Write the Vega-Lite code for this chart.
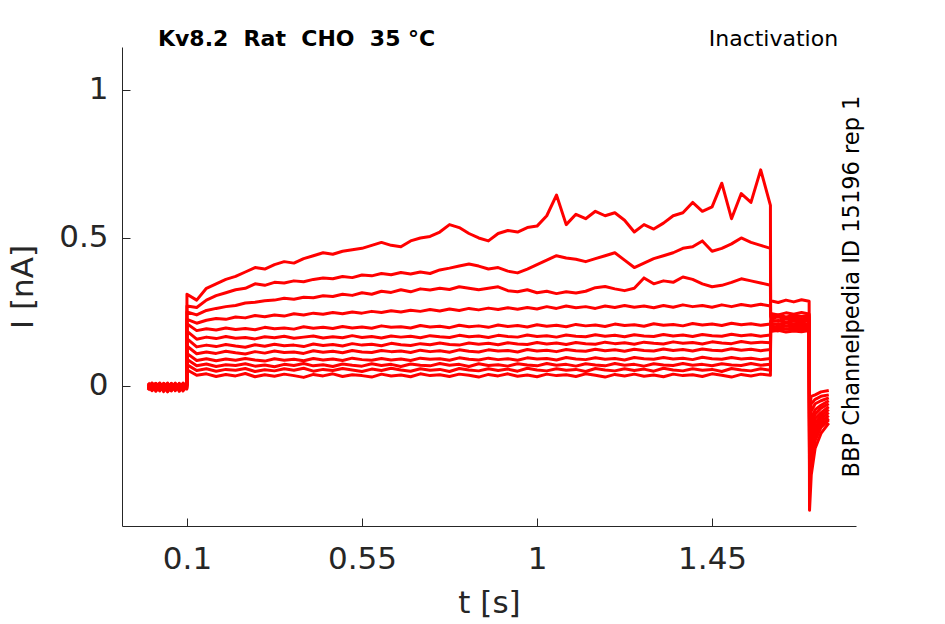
{
  "$schema": "https://vega.github.io/schema/vega-lite/v6.json",
  "description": "Kv8.2 rat CHO inactivation current traces",
  "autosize": "none",
  "width": 734,
  "height": 479,
  "padding": {"left": 122, "top": 47, "right": 89, "bottom": 98},
  "datasets": {
    "traces": [
      {"t":0.0,"a":-0.004,"b":0.008,"c":-0.012,"d":0.003,"e":-0.009,"f":0.011,"g":-0.002,"h":-0.015,"i":0.006,"j":-0.007,"k":0.001,"l":-0.011},
      {"t":0.01,"a":0.007,"b":-0.01,"c":0.004,"d":-0.014,"e":0.009,"f":-0.003,"g":-0.011,"h":0.005,"i":-0.016,"j":0.01,"k":-0.006,"l":0.002},
      {"t":0.02,"a":-0.012,"b":0.002,"c":0.009,"d":-0.006,"e":-0.015,"f":0.004,"g":0.008,"h":-0.01,"i":-0.002,"j":-0.018,"k":0.006,"l":-0.008},
      {"t":0.03,"a":0.003,"b":-0.013,"c":-0.005,"d":0.01,"e":0.001,"f":-0.017,"g":-0.007,"h":0.007,"i":0.004,"j":-0.003,"k":-0.014,"l":0.009},
      {"t":0.04,"a":-0.008,"b":0.006,"c":-0.016,"d":-0.002,"e":0.007,"f":0.009,"g":-0.013,"h":-0.004,"i":-0.011,"j":0.005,"k":0.002,"l":-0.019},
      {"t":0.05,"a":0.01,"b":-0.005,"c":0.002,"d":-0.011,"e":-0.006,"f":-0.001,"g":0.006,"h":-0.02,"i":0.008,"j":-0.012,"k":-0.009,"l":0.004},
      {"t":0.06,"a":-0.015,"b":0.009,"c":-0.008,"d":0.005,"e":0.003,"f":-0.012,"g":-0.004,"h":0.002,"i":-0.007,"j":0.008,"k":-0.017,"l":-0.003},
      {"t":0.07,"a":0.001,"b":-0.016,"c":0.007,"d":-0.009,"e":-0.013,"f":0.006,"g":0.01,"h":-0.008,"i":0.001,"j":-0.005,"k":0.004,"l":-0.014},
      {"t":0.08,"a":-0.006,"b":0.003,"c":-0.012,"d":0.008,"e":0.005,"f":-0.008,"g":-0.018,"h":0.009,"i":-0.013,"j":0.002,"k":-0.002,"l":0.006},
      {"t":0.09,"a":0.005,"b":-0.008,"c":0.003,"d":-0.017,"e":-0.004,"f":0.01,"g":-0.006,"h":-0.012,"i":0.007,"j":-0.01,"k":0.008,"l":-0.005},
      {"t":0.0995,"a":-0.003,"b":0.004,"c":-0.009,"d":0.001,"e":0.006,"f":-0.005,"g":0.002,"h":-0.007,"i":-0.001,"j":0.003,"k":-0.01,"l":0.0},
      {"t":0.1,"a":0.31,"b":0.27,"c":0.25,"d":0.225,"e":0.21,"f":0.185,"g":0.16,"h":0.135,"i":0.11,"j":0.09,"k":0.072,"l":0.055},
      {"t":0.125,"a":0.29,"b":0.265,"c":0.24,"d":0.212,"e":0.187,"f":0.158,"g":0.132,"h":0.109,"i":0.086,"j":0.068,"k":0.052,"l":0.036},
      {"t":0.15,"a":0.33,"b":0.29,"c":0.255,"d":0.222,"e":0.193,"f":0.165,"g":0.138,"h":0.115,"i":0.092,"j":0.074,"k":0.058,"l":0.041},
      {"t":0.175,"a":0.345,"b":0.305,"c":0.262,"d":0.228,"e":0.189,"f":0.16,"g":0.133,"h":0.11,"i":0.085,"j":0.066,"k":0.05,"l":0.032},
      {"t":0.2,"a":0.36,"b":0.315,"c":0.268,"d":0.225,"e":0.196,"f":0.167,"g":0.14,"h":0.117,"i":0.091,"j":0.072,"k":0.056,"l":0.039},
      {"t":0.225,"a":0.37,"b":0.325,"c":0.272,"d":0.233,"e":0.191,"f":0.161,"g":0.135,"h":0.112,"i":0.087,"j":0.069,"k":0.053,"l":0.034},
      {"t":0.25,"a":0.385,"b":0.33,"c":0.28,"d":0.23,"e":0.194,"f":0.164,"g":0.131,"h":0.108,"i":0.093,"j":0.075,"k":0.059,"l":0.042},
      {"t":0.275,"a":0.4,"b":0.345,"c":0.283,"d":0.238,"e":0.19,"f":0.159,"g":0.139,"h":0.116,"i":0.088,"j":0.067,"k":0.049,"l":0.031},
      {"t":0.3,"a":0.395,"b":0.34,"c":0.288,"d":0.234,"e":0.198,"f":0.166,"g":0.134,"h":0.111,"i":0.084,"j":0.071,"k":0.055,"l":0.038},
      {"t":0.325,"a":0.41,"b":0.35,"c":0.29,"d":0.24,"e":0.193,"f":0.163,"g":0.141,"h":0.118,"i":0.092,"j":0.065,"k":0.051,"l":0.033},
      {"t":0.35,"a":0.42,"b":0.348,"c":0.296,"d":0.236,"e":0.196,"f":0.168,"g":0.136,"h":0.113,"i":0.087,"j":0.073,"k":0.058,"l":0.04},
      {"t":0.375,"a":0.415,"b":0.355,"c":0.293,"d":0.244,"e":0.192,"f":0.161,"g":0.138,"h":0.115,"i":0.09,"j":0.069,"k":0.053,"l":0.035},
      {"t":0.4,"a":0.43,"b":0.352,"c":0.3,"d":0.24,"e":0.2,"f":0.165,"g":0.133,"h":0.11,"i":0.085,"j":0.076,"k":0.06,"l":0.029},
      {"t":0.425,"a":0.44,"b":0.36,"c":0.298,"d":0.246,"e":0.195,"f":0.169,"g":0.142,"h":0.119,"i":0.093,"j":0.068,"k":0.05,"l":0.039},
      {"t":0.45,"a":0.45,"b":0.365,"c":0.305,"d":0.242,"e":0.198,"f":0.162,"g":0.137,"h":0.114,"i":0.088,"j":0.072,"k":0.056,"l":0.034},
      {"t":0.475,"a":0.445,"b":0.362,"c":0.302,"d":0.248,"e":0.194,"f":0.166,"g":0.14,"h":0.117,"i":0.091,"j":0.066,"k":0.052,"l":0.041},
      {"t":0.5,"a":0.455,"b":0.37,"c":0.31,"d":0.244,"e":0.201,"f":0.163,"g":0.135,"h":0.112,"i":0.086,"j":0.074,"k":0.059,"l":0.032},
      {"t":0.525,"a":0.46,"b":0.366,"c":0.306,"d":0.25,"e":0.196,"f":0.17,"g":0.143,"h":0.12,"i":0.094,"j":0.07,"k":0.054,"l":0.038},
      {"t":0.55,"a":0.465,"b":0.375,"c":0.315,"d":0.246,"e":0.199,"f":0.164,"g":0.138,"h":0.115,"i":0.089,"j":0.067,"k":0.049,"l":0.035},
      {"t":0.575,"a":0.475,"b":0.372,"c":0.31,"d":0.252,"e":0.195,"f":0.167,"g":0.141,"h":0.113,"i":0.087,"j":0.075,"k":0.057,"l":0.03},
      {"t":0.6,"a":0.485,"b":0.38,"c":0.32,"d":0.248,"e":0.203,"f":0.162,"g":0.136,"h":0.12,"i":0.093,"j":0.069,"k":0.052,"l":0.04},
      {"t":0.625,"a":0.475,"b":0.376,"c":0.316,"d":0.254,"e":0.198,"f":0.169,"g":0.144,"h":0.116,"i":0.088,"j":0.073,"k":0.06,"l":0.034},
      {"t":0.65,"a":0.47,"b":0.383,"c":0.325,"d":0.25,"e":0.2,"f":0.165,"g":0.139,"h":0.118,"i":0.091,"j":0.066,"k":0.054,"l":0.037},
      {"t":0.675,"a":0.49,"b":0.378,"c":0.318,"d":0.256,"e":0.196,"f":0.168,"g":0.137,"h":0.113,"i":0.086,"j":0.074,"k":0.05,"l":0.031},
      {"t":0.7,"a":0.5,"b":0.385,"c":0.328,"d":0.252,"e":0.204,"f":0.163,"g":0.143,"h":0.121,"i":0.094,"j":0.07,"k":0.058,"l":0.041},
      {"t":0.725,"a":0.505,"b":0.38,"c":0.324,"d":0.258,"e":0.199,"f":0.17,"g":0.139,"h":0.116,"i":0.09,"j":0.068,"k":0.053,"l":0.035},
      {"t":0.75,"a":0.52,"b":0.392,"c":0.33,"d":0.253,"e":0.202,"f":0.166,"g":0.145,"h":0.119,"i":0.092,"j":0.076,"k":0.056,"l":0.038},
      {"t":0.775,"a":0.545,"b":0.398,"c":0.326,"d":0.26,"e":0.197,"f":0.164,"g":0.14,"h":0.114,"i":0.087,"j":0.07,"k":0.049,"l":0.032},
      {"t":0.8,"a":0.535,"b":0.405,"c":0.335,"d":0.255,"e":0.205,"f":0.171,"g":0.138,"h":0.122,"i":0.095,"j":0.073,"k":0.059,"l":0.04},
      {"t":0.825,"a":0.515,"b":0.412,"c":0.33,"d":0.262,"e":0.2,"f":0.166,"g":0.145,"h":0.117,"i":0.09,"j":0.066,"k":0.054,"l":0.036},
      {"t":0.85,"a":0.5,"b":0.405,"c":0.325,"d":0.257,"e":0.203,"f":0.169,"g":0.141,"h":0.115,"i":0.088,"j":0.075,"k":0.051,"l":0.03},
      {"t":0.875,"a":0.49,"b":0.395,"c":0.33,"d":0.263,"e":0.198,"f":0.164,"g":0.144,"h":0.122,"i":0.094,"j":0.069,"k":0.058,"l":0.039},
      {"t":0.9,"a":0.515,"b":0.4,"c":0.335,"d":0.258,"e":0.206,"f":0.171,"g":0.139,"h":0.118,"i":0.089,"j":0.072,"k":0.052,"l":0.034},
      {"t":0.925,"a":0.525,"b":0.388,"c":0.322,"d":0.264,"e":0.201,"f":0.167,"g":0.146,"h":0.12,"i":0.092,"j":0.067,"k":0.057,"l":0.041},
      {"t":0.95,"a":0.52,"b":0.382,"c":0.318,"d":0.259,"e":0.204,"f":0.165,"g":0.142,"h":0.115,"i":0.087,"j":0.075,"k":0.05,"l":0.033},
      {"t":0.975,"a":0.535,"b":0.395,"c":0.325,"d":0.265,"e":0.199,"f":0.172,"g":0.14,"h":0.123,"i":0.095,"j":0.071,"k":0.06,"l":0.037},
      {"t":1.0,"a":0.54,"b":0.41,"c":0.315,"d":0.26,"e":0.207,"f":0.167,"g":0.147,"h":0.118,"i":0.091,"j":0.068,"k":0.054,"l":0.031},
      {"t":1.025,"a":0.575,"b":0.425,"c":0.32,"d":0.268,"e":0.202,"f":0.17,"g":0.142,"h":0.121,"i":0.093,"j":0.076,"k":0.051,"l":0.04},
      {"t":1.05,"a":0.645,"b":0.44,"c":0.312,"d":0.262,"e":0.205,"f":0.165,"g":0.145,"h":0.116,"i":0.088,"j":0.07,"k":0.058,"l":0.035},
      {"t":1.075,"a":0.545,"b":0.432,"c":0.318,"d":0.27,"e":0.2,"f":0.172,"g":0.14,"h":0.123,"i":0.096,"j":0.073,"k":0.053,"l":0.038},
      {"t":1.1,"a":0.58,"b":0.428,"c":0.314,"d":0.264,"e":0.208,"f":0.168,"g":0.147,"h":0.119,"i":0.091,"j":0.067,"k":0.056,"l":0.032},
      {"t":1.125,"a":0.565,"b":0.42,"c":0.32,"d":0.268,"e":0.203,"f":0.166,"g":0.143,"h":0.117,"i":0.089,"j":0.075,"k":0.049,"l":0.041},
      {"t":1.15,"a":0.59,"b":0.43,"c":0.332,"d":0.262,"e":0.206,"f":0.173,"g":0.141,"h":0.124,"i":0.095,"j":0.071,"k":0.059,"l":0.036},
      {"t":1.175,"a":0.575,"b":0.44,"c":0.336,"d":0.27,"e":0.201,"f":0.168,"g":0.148,"h":0.119,"i":0.09,"j":0.068,"k":0.054,"l":0.03},
      {"t":1.2,"a":0.585,"b":0.45,"c":0.328,"d":0.265,"e":0.209,"f":0.171,"g":0.143,"h":0.122,"i":0.093,"j":0.076,"k":0.051,"l":0.039},
      {"t":1.225,"a":0.56,"b":0.425,"c":0.322,"d":0.272,"e":0.204,"f":0.166,"g":0.146,"h":0.117,"i":0.088,"j":0.07,"k":0.058,"l":0.034},
      {"t":1.25,"a":0.52,"b":0.4,"c":0.33,"d":0.266,"e":0.207,"f":0.173,"g":0.141,"h":0.124,"i":0.096,"j":0.073,"k":0.052,"l":0.04},
      {"t":1.275,"a":0.545,"b":0.415,"c":0.365,"d":0.27,"e":0.202,"f":0.169,"g":0.148,"h":0.12,"i":0.092,"j":0.067,"k":0.057,"l":0.033},
      {"t":1.3,"a":0.53,"b":0.43,"c":0.345,"d":0.264,"e":0.21,"f":0.167,"g":0.144,"h":0.118,"i":0.09,"j":0.075,"k":0.05,"l":0.037},
      {"t":1.325,"a":0.55,"b":0.44,"c":0.355,"d":0.272,"e":0.205,"f":0.174,"g":0.142,"h":0.125,"i":0.096,"j":0.071,"k":0.06,"l":0.031},
      {"t":1.35,"a":0.575,"b":0.45,"c":0.35,"d":0.266,"e":0.208,"f":0.169,"g":0.149,"h":0.12,"i":0.091,"j":0.069,"k":0.054,"l":0.04},
      {"t":1.375,"a":0.585,"b":0.465,"c":0.368,"d":0.274,"e":0.203,"f":0.172,"g":0.144,"h":0.123,"i":0.094,"j":0.076,"k":0.051,"l":0.035},
      {"t":1.4,"a":0.62,"b":0.47,"c":0.36,"d":0.268,"e":0.211,"f":0.167,"g":0.147,"h":0.118,"i":0.089,"j":0.07,"k":0.058,"l":0.038},
      {"t":1.425,"a":0.59,"b":0.49,"c":0.345,"d":0.272,"e":0.206,"f":0.174,"g":0.142,"h":0.125,"i":0.097,"j":0.073,"k":0.053,"l":0.032},
      {"t":1.45,"a":0.605,"b":0.455,"c":0.335,"d":0.266,"e":0.209,"f":0.17,"g":0.149,"h":0.121,"i":0.092,"j":0.068,"k":0.056,"l":0.041},
      {"t":1.475,"a":0.685,"b":0.465,"c":0.34,"d":0.274,"e":0.204,"f":0.168,"g":0.145,"h":0.119,"i":0.09,"j":0.075,"k":0.049,"l":0.036},
      {"t":1.5,"a":0.565,"b":0.48,"c":0.35,"d":0.268,"e":0.212,"f":0.175,"g":0.143,"h":0.126,"i":0.096,"j":0.071,"k":0.059,"l":0.03},
      {"t":1.525,"a":0.65,"b":0.5,"c":0.362,"d":0.275,"e":0.207,"f":0.17,"g":0.15,"h":0.121,"i":0.091,"j":0.069,"k":0.054,"l":0.039},
      {"t":1.55,"a":0.62,"b":0.485,"c":0.355,"d":0.27,"e":0.21,"f":0.173,"g":0.145,"h":0.124,"i":0.094,"j":0.076,"k":0.051,"l":0.034},
      {"t":1.575,"a":0.73,"b":0.475,"c":0.348,"d":0.276,"e":0.205,"f":0.168,"g":0.148,"h":0.119,"i":0.089,"j":0.07,"k":0.058,"l":0.04},
      {"t":1.6,"a":0.61,"b":0.465,"c":0.34,"d":0.27,"e":0.209,"f":0.172,"g":0.146,"h":0.123,"i":0.093,"j":0.073,"k":0.053,"l":0.036},
      {"t":1.6005,"a":0.288,"b":0.245,"c":0.236,"d":0.229,"e":0.223,"f":0.217,"g":0.211,"h":0.206,"i":0.2,"j":0.195,"k":0.19,"l":0.184},
      {"t":1.62,"a":0.282,"b":0.24,"c":0.24,"d":0.233,"e":0.219,"f":0.221,"g":0.207,"h":0.21,"i":0.196,"j":0.199,"k":0.186,"l":0.188},
      {"t":1.64,"a":0.29,"b":0.247,"c":0.233,"d":0.227,"e":0.226,"f":0.214,"g":0.214,"h":0.203,"i":0.203,"j":0.192,"k":0.193,"l":0.182},
      {"t":1.66,"a":0.284,"b":0.242,"c":0.238,"d":0.231,"e":0.221,"f":0.219,"g":0.209,"h":0.208,"i":0.198,"j":0.197,"k":0.188,"l":0.186},
      {"t":1.68,"a":0.291,"b":0.248,"c":0.235,"d":0.226,"e":0.225,"f":0.216,"g":0.213,"h":0.204,"i":0.202,"j":0.194,"k":0.191,"l":0.183},
      {"t":1.6995,"a":0.286,"b":0.243,"c":0.239,"d":0.232,"e":0.22,"f":0.22,"g":0.208,"h":0.209,"i":0.197,"j":0.198,"k":0.187,"l":0.187},
      {"t":1.7005,"a":-0.07,"b":-0.1,"c":-0.13,"d":-0.16,"e":-0.19,"f":-0.21,"g":-0.23,"h":-0.25,"i":-0.27,"j":-0.29,"k":-0.31,"l":-0.42},
      {"t":1.705,"a":-0.035,"b":-0.06,"c":-0.085,"d":-0.11,"e":-0.13,"f":-0.15,"g":-0.17,"h":-0.19,"i":-0.21,"j":-0.23,"k":-0.25,"l":-0.3},
      {"t":1.715,"a":-0.03,"b":-0.045,"c":-0.06,"d":-0.08,"e":-0.095,"f":-0.11,"g":-0.125,"h":-0.14,"i":-0.155,"j":-0.17,"k":-0.185,"l":-0.21},
      {"t":1.73,"a":-0.02,"b":-0.035,"c":-0.05,"d":-0.065,"e":-0.075,"f":-0.09,"g":-0.1,"h":-0.11,"i":-0.12,"j":-0.13,"k":-0.14,"l":-0.16},
      {"t":1.75,"a":-0.015,"b":-0.03,"c":-0.04,"d":-0.05,"e":-0.06,"f":-0.07,"g":-0.08,"h":-0.09,"i":-0.1,"j":-0.11,"k":-0.115,"l":-0.125}
    ]
  },
  "config": {
    "font": "DejaVu Sans",
    "view": {"stroke": null},
    "axis": {
      "grid": false,
      "domainColor": "#262626",
      "tickColor": "#262626",
      "labelColor": "#262626",
      "titleColor": "#262626",
      "labelFont": "DejaVu Sans",
      "titleFont": "DejaVu Sans",
      "labelFontSize": 31,
      "titleFontSize": 31,
      "titleFontWeight": "normal",
      "tickSize": -8,
      "domainWidth": 1,
      "tickWidth": 1
    }
  },
  "layer": [
    {
      "data": {"name": "traces"},
      "transform": [
        {"fold": ["a", "b", "c", "d", "e", "f", "g", "h", "i", "j", "k", "l"], "as": ["trace", "current"]}
      ],
      "mark": {"type": "line", "color": "#ff0000", "strokeWidth": 3, "strokeJoin": "round"},
      "encoding": {
        "x": {
          "field": "t",
          "type": "quantitative",
          "scale": {"domain": [-0.067, 1.82], "nice": false, "zero": false},
          "axis": {"values": [0.1, 0.55, 1, 1.45], "labelExpr": "'' + datum.value", "title": "t [s]", "labelPadding": 26, "titlePadding": 14}
        },
        "y": {
          "field": "current",
          "type": "quantitative",
          "scale": {"domain": [-0.473, 1.145], "nice": false, "zero": false},
          "axis": {"values": [0, 0.5, 1], "labelExpr": "'' + datum.value", "title": "I [nA]", "labelPadding": 22, "titlePadding": 19}
        },
        "detail": {"field": "trace", "type": "nominal"}
      }
    },
    {
      "data": {"values": [{"label": "Kv8.2\u00a0\u00a0Rat\u00a0\u00a0CHO\u00a0\u00a035\u00a0°C"}]},
      "mark": {"type": "text", "align": "left", "baseline": "alphabetic", "fontSize": 22, "fontWeight": "bold", "color": "#000000"},
      "encoding": {
        "x": {"datum": 0.0254, "type": "quantitative"},
        "y": {"datum": 1.147, "type": "quantitative"},
        "text": {"field": "label"}
      }
    },
    {
      "data": {"values": [{"label": "Inactivation"}]},
      "mark": {"type": "text", "align": "right", "baseline": "alphabetic", "fontSize": 22, "color": "#000000"},
      "encoding": {
        "x": {"datum": 1.774, "type": "quantitative"},
        "y": {"datum": 1.147, "type": "quantitative"},
        "text": {"field": "label"}
      }
    },
    {
      "data": {"values": [{"label": "BBP Channelpedia ID 15196 rep 1"}]},
      "mark": {"type": "text", "align": "center", "baseline": "alphabetic", "angle": 270, "fontSize": 22.5, "color": "#000000"},
      "encoding": {
        "x": {"datum": 1.828, "type": "quantitative"},
        "y": {"datum": 0.336, "type": "quantitative"},
        "text": {"field": "label"}
      }
    }
  ]
}
